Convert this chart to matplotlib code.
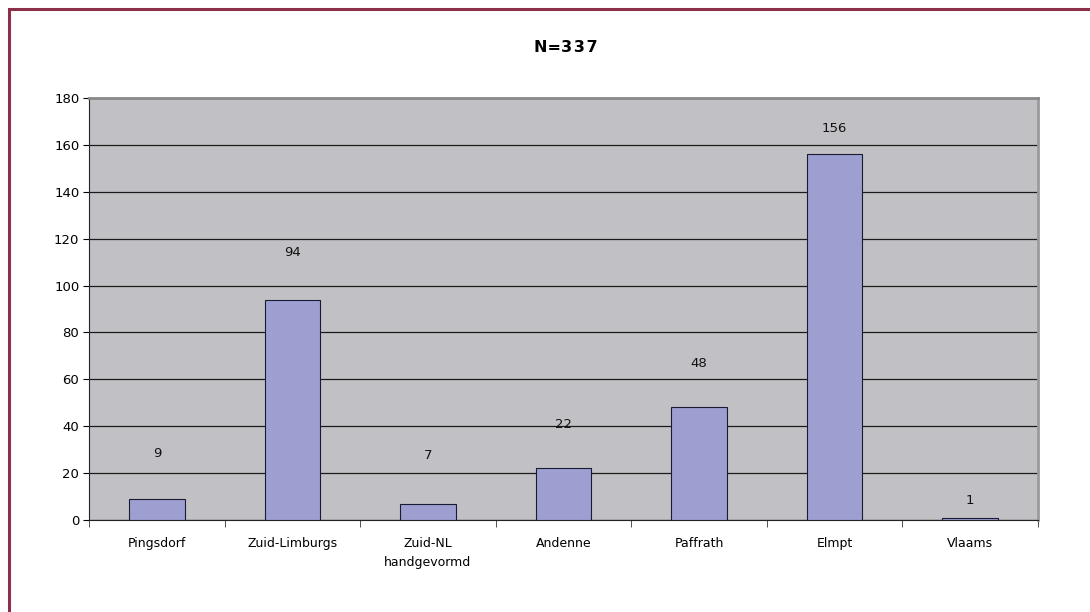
import numpy as np
import matplotlib
matplotlib.use('Agg')
import matplotlib.pyplot as plt
from matplotlib.patches import Rectangle

categories = ['Pingsdorf', 'Zuid-Limburgs', 'Zuid-NL\nhandgevormd', 'Andenne',
              'Paffrath', 'Elmpt', 'Vlaams']
counts     = [9, 94, 7, 22, 48, 156, 1]
title      = 'N=3\u200a3\u200a7'

# label offsets above bar tops (points), as placed in the original
label_off  = [28, 29, 30, 27, 27, 14, 8]

plt.rcParams['font.family'] = ['DejaVu Sans']

fig = plt.figure(figsize=(10.9, 6.12), dpi=100)
fig.patch.set_facecolor('white')

# dark red frame (left and top only visible)
fig.add_artist(Rectangle((0.0085, -0.05), 1.2, 1.036, transform=fig.transFigure,
                         fill=False, edgecolor='#8B3048', linewidth=2.2))

ax = fig.add_axes([0.0817, 0.1503, 0.8706, 0.6896])
ax.set_facecolor('#C1C1C5')

x = np.arange(len(categories))
ax.bar(x, counts, width=0.41, color='#9C9FD0', edgecolor='#1a1a33', linewidth=0.8, zorder=3)

for xi, v, off in zip(x, counts, label_off):
    ax.annotate(str(v), (xi, v), xytext=(0, off), textcoords='offset points',
                ha='center', va='bottom', fontsize=9.5, color='#111111')

ax.set_xlim(-0.5, len(categories) - 0.5)
ax.set_ylim(0, 180)
ax.set_yticks(np.arange(0, 181, 20))
ax.yaxis.grid(True, color='#1a1a1a', linewidth=0.9, zorder=1)
ax.set_axisbelow(True)

ax.set_xticks(x)
ax.set_xticklabels(categories, fontsize=9, linespacing=1.6)
ax.tick_params(axis='x', length=0, pad=12)
ax.set_xticks(np.arange(-0.5, len(categories)), minor=True)
ax.tick_params(axis='x', which='minor', length=5, direction='out', color='#333333')
ax.tick_params(axis='y', length=4, direction='out', labelsize=9.5, pad=3)

ax.spines['left'].set_color('#222222')
ax.spines['bottom'].set_color('#222222')
ax.spines['top'].set_color('#8a8a8a')
ax.spines['top'].set_linewidth(2)
ax.spines['right'].set_color('#9a9a9a')
ax.spines['right'].set_linewidth(2)

fig.text(0.519, 0.922, title, ha='center', va='center', fontsize=11.5,
         fontweight='bold')

fig.savefig('out.png', dpi=100)
